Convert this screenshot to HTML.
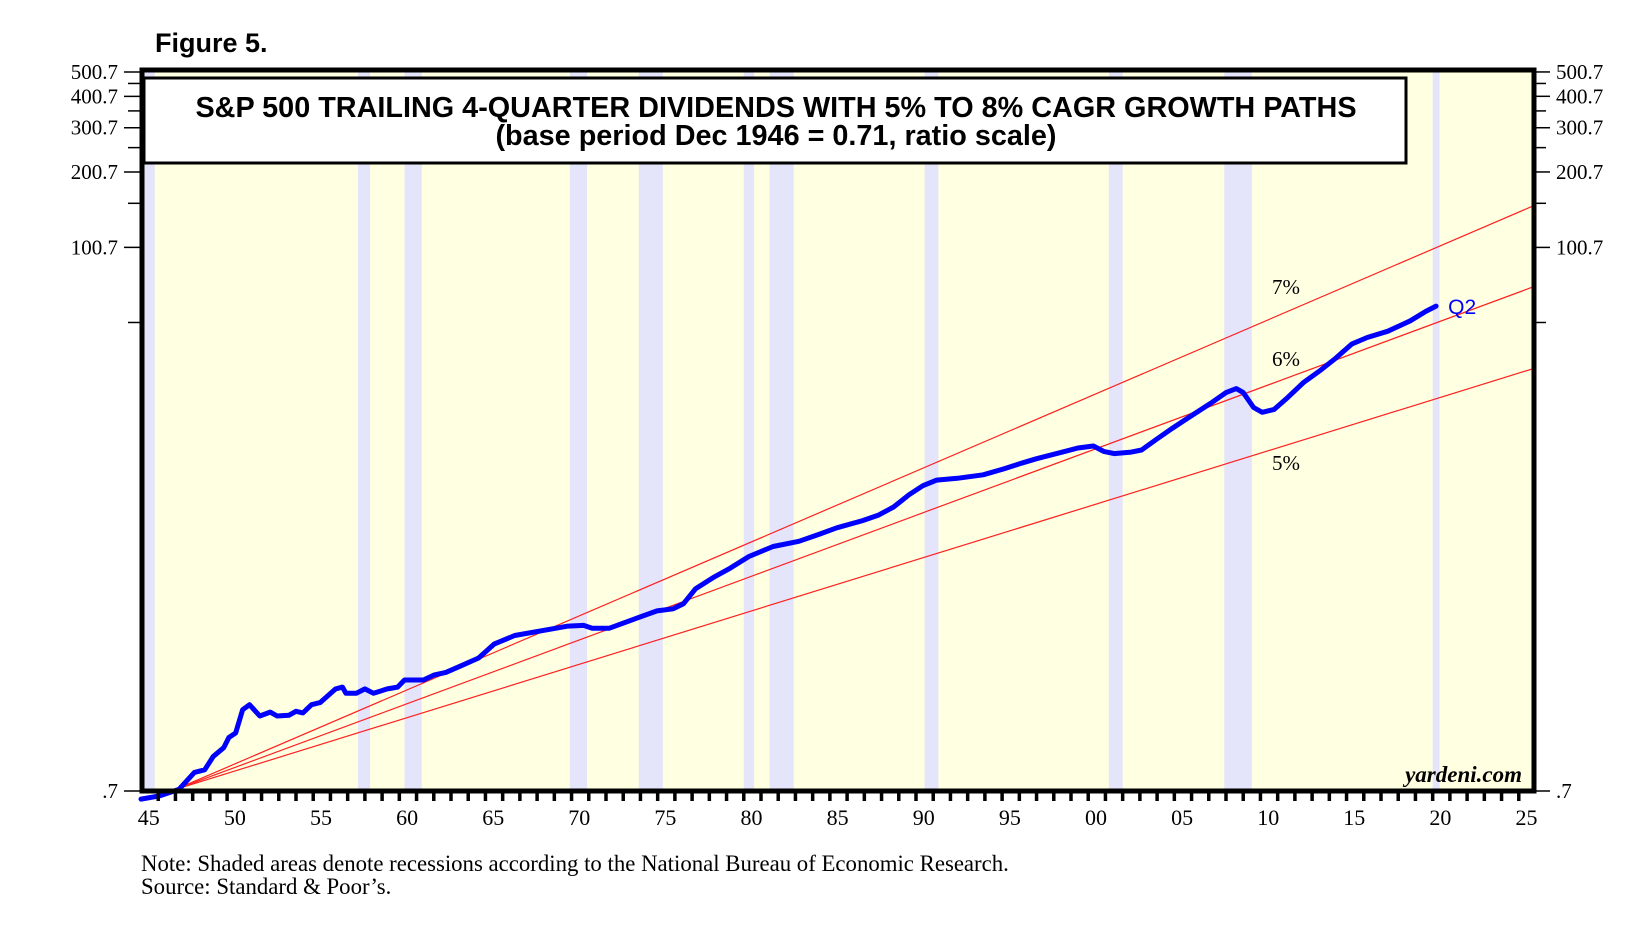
<!DOCTYPE html>
<html><head><meta charset="utf-8"><style>
body{margin:0;background:#fff;}
svg{display:block;}
</style></head><body>
<svg id="chart" width="1648" height="940" xmlns="http://www.w3.org/2000/svg">
<g id="bands"></g>
<g id="lines"></g>
<g id="axes"></g>
</svg>
<script>
const years = [1945.0,1946.1,1947.2,1948.1,1948.7,1949.2,1949.8,1950.1,1950.5,1950.9,1951.3,1951.9,1952.5,1952.9,1953.6,1954.0,1954.4,1954.9,1955.4,1955.8,1956.3,1956.7,1956.9,1957.5,1958.0,1958.5,1959.3,1959.9,1960.3,1961.4,1962.0,1962.7,1963.6,1964.6,1965.5,1966.7,1969.8,1970.7,1971.2,1972.2,1973.7,1974.96,1975.9,1976.5,1977.2,1978.3,1979.2,1980.3,1981.7,1983.2,1984.4,1985.4,1986.9,1987.8,1988.7,1989.6,1990.4,1991.2,1992.4,1993.9,1995.1,1996.1,1997.0,1998.5,1999.4,2000.3,2000.9,2001.5,2002.5,2003.1,2004.0,2004.9,2005.8,2007.1,2008.0,2008.6,2009.0,2009.6,2010.1,2010.8,2011.6,2012.5,2013.5,2014.4,2015.3,2016.2,2017.4,2018.7,2019.6,2020.2];
const dividends = [0.65,0.67,0.71,0.83,0.85,0.96,1.04,1.14,1.19,1.47,1.54,1.39,1.44,1.39,1.40,1.45,1.43,1.54,1.57,1.66,1.78,1.81,1.71,1.71,1.78,1.71,1.78,1.81,1.93,1.93,2.02,2.07,2.20,2.36,2.68,2.90,3.16,3.18,3.10,3.10,3.38,3.63,3.70,3.88,4.45,4.96,5.36,5.97,6.54,6.86,7.33,7.76,8.29,8.70,9.39,10.5,11.4,12.0,12.2,12.6,13.3,14.0,14.6,15.5,16.1,16.4,15.6,15.3,15.5,15.8,17.5,19.3,21.2,24.2,26.7,27.7,26.7,23.3,22.3,22.9,25.6,29.3,32.8,36.7,41.6,44.2,46.8,51.5,56.1,58.9];
const growthRates = [0.05,0.06,0.07];
const growthLabels = ["5%","6%","7%"];
const recessionStart = [1945.1,1957.6,1960.3,1969.9,1973.9,1980.0,1981.5,1990.5,2001.2,2007.9,2020.0];
const recessionEnd = [1945.8,1958.3,1961.3,1970.9,1975.3,1980.6,1982.9,1991.3,2002.0,2009.5,2020.4];
const yTicks = [0.7,50.7,100.7,150.7,200.7,250.7,300.7,350.7,400.7,450.7,500.7];
const yTickLabels = [".7","","100.7","","200.7","","300.7","","400.7","","500.7"];
const xLabels = ["45","50","55","60","65","70","75","80","85","90","95","00","05","10","15","20","25"];
const baseYear = 1947.0, baseValue = 0.71;

const L=142,R=1534,T=70,B=791;
const X0=1945, X1=2026;
const x = t => 141 + (t - X0) * (1536-141)/(X1-X0);
const y = v => 791 - 109.4*Math.log(v/0.7);
const NS="http://www.w3.org/2000/svg";
function mk(tag, attrs, parent){const e=document.createElementNS(NS,tag);for(const k in attrs)e.setAttribute(k,attrs[k]);parent.appendChild(e);return e;}
const gB=document.getElementById('bands'), gL=document.getElementById('lines'), gA=document.getElementById('axes');

const bg=mk('rect',{x:L,y:T,width:R-L,height:B-T,fill:'#ffffe2'},gB);


recessionStart.forEach((s,i)=>{
  const r=mk('rect',{x:x(s),y:T,width:x(recessionEnd[i])-x(s),height:B-T,fill:'#e4e4fa'},gB);
  
  
});
const labelOffsets=[-23,14,20];
growthRates.forEach((g,i)=>{
  const v2=baseValue*Math.pow(1+g,X1-baseYear);
  const ln=mk('line',{x1:x(baseYear),y1:y(baseValue),x2:x(X1),y2:y(v2),stroke:'#ff2020','stroke-width':1.2},gL);
  
  
  const tv=baseValue*Math.pow(1+g,2011.2-baseYear);
  const t=mk('text',{x:1272,y:y(tv)-labelOffsets[i],'font-family':'Liberation Serif, serif','font-size':21,fill:'#000'},gL);
  t.textContent=growthLabels[i];
  
  
});
let d='';
years.forEach((t,i)=>{d+=(i?'L':'M')+x(t).toFixed(1)+' '+y(dividends[i]).toFixed(1)+' ';});
const p=mk('path',{d:d,fill:'none',stroke:'#0000ff','stroke-width':5,'stroke-linejoin':'round','stroke-linecap':'round'},gL);


const last=years.length-1;
const q=mk('text',{x:x(years[last])+12,y:y(dividends[last])+8,'font-family':'Liberation Sans, sans-serif','font-size':21,fill:'#0000ff'},gL);
q.textContent='Q2';


yTicks.forEach((v,i)=>{
  const yy=y(v);
  const big=yTickLabels[i]!=='';
  mk('line',{x1:big?124:128,y1:yy,x2:L,y2:yy,stroke:'#000','stroke-width':1.5},gA);
  mk('line',{x1:R,y1:yy,x2:big?1550:1546,y2:yy,stroke:'#000','stroke-width':1.5},gA);
  if(big){
    const a=mk('text',{x:118,y:yy+7,'text-anchor':'end','font-family':'Liberation Serif, serif','font-size':21,fill:'#000'},gA);
    a.textContent=yTickLabels[i];
    
    
    const b=mk('text',{x:1556,y:yy+7,'font-family':'Liberation Serif, serif','font-size':21,fill:'#000'},gA);
    b.textContent=yTickLabels[i];
    
    
  }
});
for(let t=X0+1;t<X1;t++){
  mk('line',{x1:x(t),y1:B,x2:x(t),y2:B+10,stroke:'#000','stroke-width':3.5},gA);
}
xLabels.forEach((s,i)=>{
  const a=mk('text',{x:x(X0+5*i+0.45),y:825,'text-anchor':'middle','font-family':'Liberation Serif, serif','font-size':22,fill:'#000'},gA);
  a.textContent=s;
  
  
});
const fr=mk('rect',{x:L,y:T,width:R-L,height:B-T,fill:'none',stroke:'#000','stroke-width':5},gA);


</script>
<svg style="position:absolute;left:0;top:0" width="1648" height="940" xmlns="http://www.w3.org/2000/svg">
  <text x="155" y="52" font-family="Liberation Sans, sans-serif" font-weight="bold" font-size="27" fill="#000">Figure 5.</text>
  <g>
    <rect x="144" y="78" width="1262" height="85" fill="#fff" stroke="#000" stroke-width="3"/>
    <text x="776" y="117" text-anchor="middle" font-family="Liberation Sans, sans-serif" font-weight="bold" font-size="28.8" fill="#000">S&amp;P 500 TRAILING 4-QUARTER DIVIDENDS WITH 5% TO 8% CAGR GROWTH PATHS</text>
    <text x="776" y="145" text-anchor="middle" font-family="Liberation Sans, sans-serif" font-weight="bold" font-size="28.8" fill="#000">(base period Dec 1946 = 0.71, ratio scale)</text>
  </g>
  <text x="1522" y="782" text-anchor="end" font-family="Liberation Serif, serif" font-style="italic" font-weight="bold" font-size="23" fill="#000">yardeni.com</text>
  <text x="141" y="871" font-family="Liberation Serif, serif" font-size="22.8" fill="#000">Note: Shaded areas denote recessions according to the National Bureau of Economic Research.</text>
  <text x="141" y="894" font-family="Liberation Serif, serif" font-size="22.8" fill="#000">Source: Standard &amp; Poor’s.</text>
</svg>
</body></html>
